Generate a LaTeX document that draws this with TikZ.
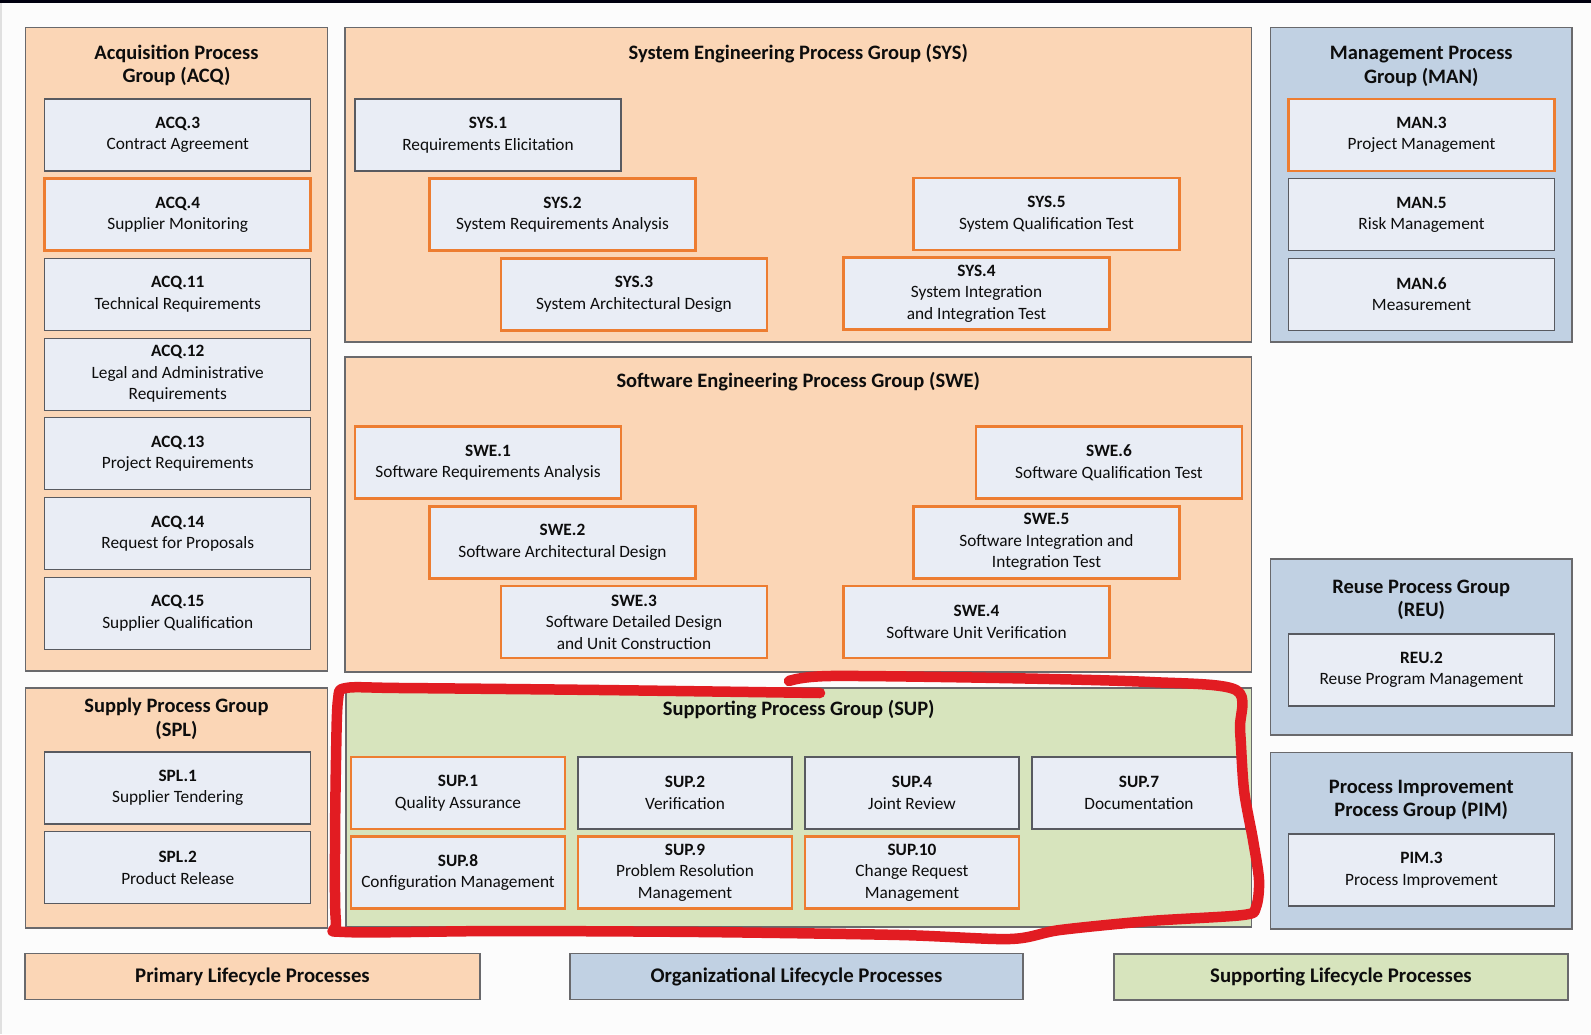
\documentclass[tikz,border=0pt]{standalone}
\usepackage{fontspec}
\setmainfont{Carlito}
\definecolor{primfill}{RGB}{251,214,182}
\definecolor{orgfill}{RGB}{193,209,227}
\definecolor{supfill}{RGB}{215,228,189}
\definecolor{procfill}{RGB}{233,237,245}
\definecolor{boxline}{RGB}{88,90,96}
\definecolor{grpline}{RGB}{105,105,108}
\definecolor{hiorange}{RGB}{237,125,49}
\definecolor{markred}{RGB}{226,28,34}
\newcommand{\itemfont}{\fontsize{17.3}{21.5}\selectfont}
\newcommand{\grpfont}{\fontsize{20.5}{23.5}\selectfont\bfseries}
\tikzset{%
            base/.style = {rectangle, draw=boxline, line width=1.2pt,
                           fill=procfill, minimum width=266pt, minimum height=72pt,
                           inner sep=0pt, text centered, align=center,
                           text=black!95, font=\itemfont},
  box0/.style = {base},
  box1/.style = {base, draw=hiorange, line width=2.8pt},
   grp/.style = {rectangle, draw=grpline, line width=1.3pt, inner sep=0pt},
  grp0/.style = {grp, fill=primfill},
  grp1/.style = {grp, fill=orgfill},
  grp2/.style = {grp, fill=supfill},
  head/.style = {align=center, inner sep=0pt, text=black!95, font=\grpfont},
  lgnd/.style = {grp, minimum height=46pt, text=black!95,
                 font=\fontsize{20.8}{23}\selectfont\bfseries},
}

\begin{document}
\begin{tikzpicture}[x=1pt, y=-1pt, node distance=79.7pt]

  \useasboundingbox (0,0) rectangle (1591,1034);
  \fill[white!99!black] (0,0) rectangle (1591,1034);
  \fill[black!85!blue!40!black] (0,0) rectangle (1591,3);
  \fill[black!12] (0,3) rectangle (1.5,1034);

  % groups
  \node (grpACQ) [grp0, minimum width=302pt, minimum height=643.5pt] at (176.5,349.25) {};
  \node (grpSPL) [grp0, minimum width=302pt, minimum height=240pt]   at (176.5,808) {};
  \node (grpSYS) [grp0, minimum width=906.5pt, minimum height=314.5pt] at (798.25,184.75) {};
  \node (grpSWE) [grp0, minimum width=906.5pt, minimum height=315pt]   at (798.25,514.5) {};
  \node (grpSUP) [grp2, minimum width=905.5pt, minimum height=239pt]   at (798.75,807.5) {};
  \node (grpMAN) [grp1, minimum width=301.5pt, minimum height=314.5pt] at (1421.25,184.75) {};
  \node (grpREU) [grp1, minimum width=301.5pt, minimum height=176pt]   at (1421.25,647) {};
  \node (grpPIM) [grp1, minimum width=301.5pt, minimum height=176.5pt] at (1421.25,840.75) {};

  \node (tACQ) [head] at (176.5,65.5)    {Acquisition Process\\Group (ACQ)};
  \node (tSPL) [head] at (176.5,719)     {Supply Process Group\\(SPL)};
  \node (tSYS) [head] at (798.25,54)     {System Engineering Process Group (SYS)};
  \node (tSWE) [head] at (798.25,381.5)  {Software Engineering Process Group (SWE)};
  \node (tSUP) [head] at (798.75,710)    {Supporting Process Group (SUP)};
  \node (tMAN) [head] at (1421.25,66.5)  {Management Process\\Group (MAN)};
  \node (tREU) [head] at (1421.25,600)   {Reuse Process Group\\(REU)};
  \node (tPIM) [head] at (1421.25,800)   {Process Improvement\\Process Group (PIM)};

  % ACQ
  \node (acq3)  [box0] at (177.75,135)       {\textbf{ACQ.3}\\Contract Agreement};
  \node (acq4)  [box1, below of=acq3]        {\textbf{ACQ.4}\\Supplier Monitoring};
  \node (acq11) [box0, below of=acq4]        {\textbf{ACQ.11}\\Technical Requirements};
  \node (acq12) [box0, below of=acq11]       {\textbf{ACQ.12}\\Legal and Administrative\\Requirements};
  \node (acq13) [box0, below of=acq12]       {\textbf{ACQ.13}\\Project Requirements};
  \node (acq14) [box0, below of=acq13]       {\textbf{ACQ.14}\\Request for Proposals};
  \node (acq15) [box0, below of=acq14]       {\textbf{ACQ.15}\\Supplier Qualification};

  % SPL
  \node (spl1)  [box0] at (177.75,788)       {\textbf{SPL.1}\\Supplier Tendering};
  \node (spl2)  [box0, below of=spl1]        {\textbf{SPL.2}\\Product Release};

  % SYS
  \node (sys1)  [box0] at (488,135)                  {\textbf{SYS.1}\\Requirements Elicitation};
  \node (sys2)  [box1, below of=sys1, xshift=74.5pt] {\textbf{SYS.2}\\System Requirements Analysis};
  \node (sys3)  [box1, below of=sys2, xshift=71.5pt] {\textbf{SYS.3}\\System Architectural Design};
  \node (sys5)  [box1] at (1046.5,214)               {\textbf{SYS.5}\\System Qualification Test};
  \node (sys4)  [box1, below of=sys5, xshift=-70pt]  {\textbf{SYS.4}\\System Integration\\and Integration Test};

  % SWE
  \node (swe1)  [box1] at (488,462.5)                {\textbf{SWE.1}\\Software Requirements Analysis};
  \node (swe2)  [box1, below of=swe1, xshift=74.5pt] {\textbf{SWE.2}\\Software Architectural Design};
  \node (swe3)  [box1, below of=swe2, xshift=71.5pt] {\textbf{SWE.3}\\Software Detailed Design\\and Unit Construction};
  \node (swe6)  [box1] at (1109,462.5)               {\textbf{SWE.6}\\Software Qualification Test};
  \node (swe5)  [box1, below of=swe6, xshift=-62.5pt] {\textbf{SWE.5}\\Software Integration and\\Integration Test};
  \node (swe4)  [box1, below of=swe5, xshift=-70pt]  {\textbf{SWE.4}\\Software Unit Verification};

  % SUP
  \node (sup1)  [box1, minimum width=214pt] at (458,793)    {\textbf{SUP.1}\\Quality Assurance};
  \node (sup2)  [box0, minimum width=214pt, node distance=227pt, right of=sup1] {\textbf{SUP.2}\\Verification};
  \node (sup4)  [box0, minimum width=214pt, node distance=227pt, right of=sup2] {\textbf{SUP.4}\\Joint Review};
  \node (sup7)  [box0, minimum width=214pt, node distance=227pt, right of=sup4] {\textbf{SUP.7}\\Documentation};
  \node (sup8)  [box1, minimum width=214pt, below of=sup1]  {\textbf{SUP.8}\\Configuration Management};
  \node (sup9)  [box1, minimum width=214pt, below of=sup2]  {\textbf{SUP.9}\\Problem Resolution\\Management};
  \node (sup10) [box1, minimum width=214pt, below of=sup4]  {\textbf{SUP.10}\\Change Request\\Management};

  % MAN, REU, PIM
  \node (man3)  [box1] at (1421.5,135)       {\textbf{MAN.3}\\Project Management};
  \node (man5)  [box0, below of=man3]        {\textbf{MAN.5}\\Risk Management};
  \node (man6)  [box0, below of=man5]        {\textbf{MAN.6}\\Measurement};
  \node (reu2)  [box0] at (1421.5,670)       {\textbf{REU.2}\\Reuse Program Management};
  \node (pim3)  [box0] at (1421.5,870)       {\textbf{PIM.3}\\Process Improvement};

  % legend
  \node (lgPrim) [lgnd, fill=primfill, minimum width=455pt] at (252.5,976.5)  {Primary Lifecycle Processes};
  \node (lgOrg)  [lgnd, fill=orgfill,  minimum width=453pt] at (796.5,976.5)  {Organizational Lifecycle Processes};
  \node (lgSup)  [lgnd, fill=supfill,  minimum width=454pt] at (1341,977)     {Supporting Lifecycle Processes};

  % hand drawn mark round SUP
  \draw[markred, line width=10.5pt, line cap=round, line join=round]
    plot[smooth, tension=0.5] coordinates {(789,681) (830,676) (1000,678) (1150,682) (1236,690)
      (1240,730) (1244,790) (1253,840) (1259,880) (1256,907) (1243,915) (1150,921)
      (1060,930) (1010,939) (900,935) (700,932) (500,931) (345,932) (336,922)
      (335,850) (336,760) (338,700) (346,688) (400,688) (600,690) (820,693)};

\end{tikzpicture}
\end{document}
